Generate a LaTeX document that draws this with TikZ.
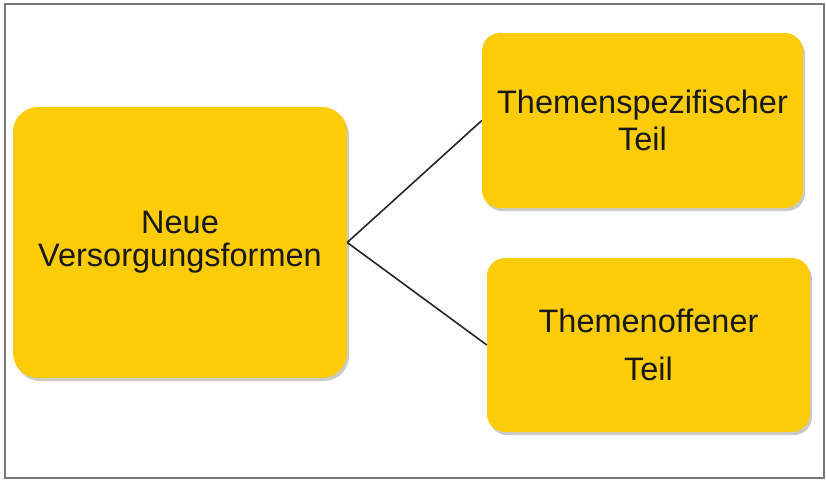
\documentclass[tikz,border=0pt]{standalone}
\usepackage{fontspec}
\setmainfont{Liberation Sans}
\usetikzlibrary{shadows}
\definecolor{boxyellow}{RGB}{252,204,8}
\definecolor{framegray}{RGB}{120,120,120}
\tikzset{
  yellowbox/.style={
    draw=none, fill=boxyellow, align=center, inner sep=0pt,
    drop shadow={shadow xshift=2pt, shadow yshift=-3pt, opacity=0.35, fill=black!60},
    font=\fontsize{32.5}{33}\selectfont, text=black!90
  },
  link/.style={draw=black!85, line width=1.6pt}
}
\begin{document}
\begin{tikzpicture}[x=1pt, y=-1pt]
  \useasboundingbox (0,0) rectangle (826,481);
  % outer frame
  \draw[framegray, line width=2.4pt] (5,4) rectangle (824,478);
  % boxes
  \node[yellowbox, rounded corners=25pt, minimum width=334pt, minimum height=271pt]
    (main) at (180,242.5) {Neue\\Versorgungsformen};
  \node[yellowbox, rounded corners=18pt, minimum width=321pt, minimum height=175pt,
        font=\fontsize{32.5}{37}\selectfont]
    (spec) at (642.5,120.5) {Themenspezifischer\\Teil};
  \node[yellowbox, rounded corners=18pt, minimum width=323pt, minimum height=174pt,
        font=\fontsize{32.5}{48}\selectfont]
    (open) at (648.5,345) {Themenoffener\\Teil};
  % connectors
  \draw[link] (main.east) -- (spec.west);
  \draw[link] (main.east) -- (open.west);
\end{tikzpicture}
\end{document}
